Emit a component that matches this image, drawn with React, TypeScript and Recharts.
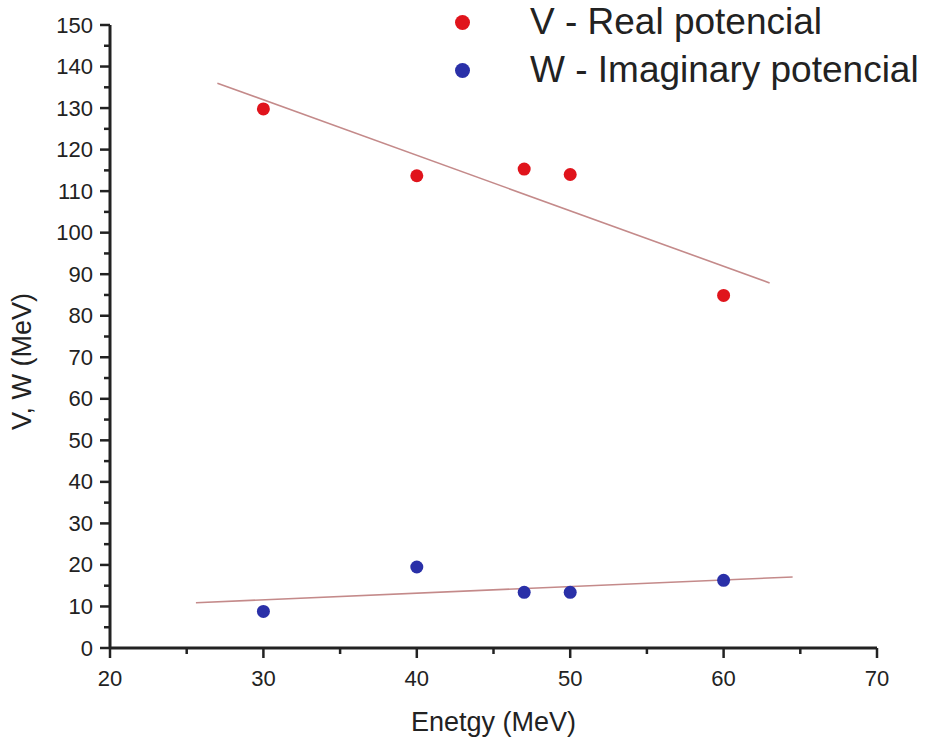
import { ScatterChart, Scatter, XAxis, YAxis, ReferenceLine, Legend } from "recharts";

// measured points
const energy = [30, 40, 47, 50, 60];
const realV = [129.8, 113.7, 115.3, 114.0, 84.9];
const imagW = [8.8, 19.5, 13.4, 13.4, 16.3];

// fitted lines, end points
const realFitX = [27, 63];
const realFitY = [136.0, 87.9];
const imagFitX = [25.6, 64.5];
const imagFitY = [10.9, 17.1];

const xTicks = [20, 25, 30, 35, 40, 45, 50, 55, 60, 65, 70];
const yTicks = [
  0, 5, 10, 15, 20, 25, 30, 35, 40, 45, 50, 55, 60, 65, 70, 75, 80, 85, 90, 95, 100, 105, 110, 115, 120, 125, 130,
  135, 140, 145, 150,
];

const realData = energy.map((e, i) => ({ x: e, y: realV[i] }));
const imagData = energy.map((e, i) => ({ x: e, y: imagW[i] }));

const INK = "#222";
const FIT = "#c48a8a";
const RED = "#e0141c";
const BLUE = "#2a30a8";
const FONT = "'Liberation Sans', Arial, sans-serif";

function YTick(props: any) {
  const { x, y, payload } = props;
  const major = payload.value % 10 === 0;
  const len = major ? 10 : 6;
  return (
    <g>
      <line x1={x - len} y1={y} x2={x} y2={y} stroke={INK} strokeWidth={2.5} />
      {major && (
        <text x={x - 17} y={y} textAnchor="end" dominantBaseline="central" fontSize={22} fill={INK} fontFamily={FONT}>
          {payload.value}
        </text>
      )}
    </g>
  );
}

function XTick(props: any) {
  const { x, y, payload } = props;
  const major = payload.value % 10 === 0;
  const len = major ? 10 : 6;
  return (
    <g>
      <line x1={x} y1={y} x2={x} y2={y + len} stroke={INK} strokeWidth={2.5} />
      {major && (
        <text x={x} y={y + 38} textAnchor="middle" fontSize={22} fill={INK} fontFamily={FONT}>
          {payload.value}
        </text>
      )}
    </g>
  );
}

function YLabel(props: any) {
  const vb = props.viewBox;
  const cx = vb.x + 22;
  const cy = vb.y + vb.height / 2 + 25;
  return (
    <text
      x={cx}
      y={cy}
      transform={`rotate(-90, ${cx}, ${cy})`}
      textAnchor="middle"
      dominantBaseline="central"
      fontSize={27}
      fill={INK}
      fontFamily={FONT}
    >
      V, W (MeV)
    </text>
  );
}

function LegendBox() {
  const rows = [
    { color: RED, label: "V - Real potencial" },
    { color: BLUE, label: "W - Imaginary potencial" },
  ];
  return (
    <div style={{ fontFamily: FONT, color: INK }}>
      {rows.map((r) => (
        <div key={r.label} style={{ display: "flex", alignItems: "center", height: 48 }}>
          <span
            style={{ width: 15, height: 15, borderRadius: "50%", background: r.color, display: "inline-block", marginRight: 60 }}
          />
          <span style={{ fontSize: 37, whiteSpace: "nowrap" }}>{r.label}</span>
        </div>
      ))}
    </div>
  );
}

export default function App() {
  return (
    <div style={{ position: "absolute", left: 0, top: 0, background: "#fff" }}>
      <ScatterChart width={925} height={737} margin={{ top: 25, right: 48, bottom: 29, left: 0 }}>
        <XAxis
          type="number"
          dataKey="x"
          domain={[20, 70]}
          ticks={xTicks}
          interval={0}
          height={60}
          tickSize={0}
          tickMargin={0}
          tickLine={false}
          tick={<XTick />}
          axisLine={{ stroke: INK, strokeWidth: 3 }}
          label={{ value: "Enetgy (MeV)", position: "insideBottom", offset: -23, fontSize: 27, fill: INK, fontFamily: FONT }}
        />
        <YAxis
          type="number"
          dataKey="y"
          domain={[0, 150]}
          ticks={yTicks}
          interval={0}
          width={110}
          tickSize={0}
          tickMargin={0}
          tickLine={false}
          tick={<YTick />}
          axisLine={{ stroke: INK, strokeWidth: 3 }}
          label={{ content: YLabel }}
        />
        <ReferenceLine
          segment={[
            { x: realFitX[0], y: realFitY[0] },
            { x: realFitX[1], y: realFitY[1] },
          ]}
          stroke={FIT}
          strokeWidth={1.6}
        />
        <ReferenceLine
          segment={[
            { x: imagFitX[0], y: imagFitY[0] },
            { x: imagFitX[1], y: imagFitY[1] },
          ]}
          stroke={FIT}
          strokeWidth={1.6}
        />
        <Scatter name="V - Real potencial" data={realData} fill={RED} isAnimationActive={false} shape={(p: any) => <circle cx={p.cx} cy={p.cy} r={6.5} fill={RED} />} />
        <Scatter name="W - Imaginary potencial" data={imagData} fill={BLUE} isAnimationActive={false} shape={(p: any) => <circle cx={p.cx} cy={p.cy} r={6.5} fill={BLUE} />} />
        <Legend
          layout="vertical"
          align="center"
          verticalAlign="middle"
          content={<LegendBox />}
          wrapperStyle={{ top: -2, left: 455, width: 470 }}
        />
      </ScatterChart>
    </div>
  );
}
